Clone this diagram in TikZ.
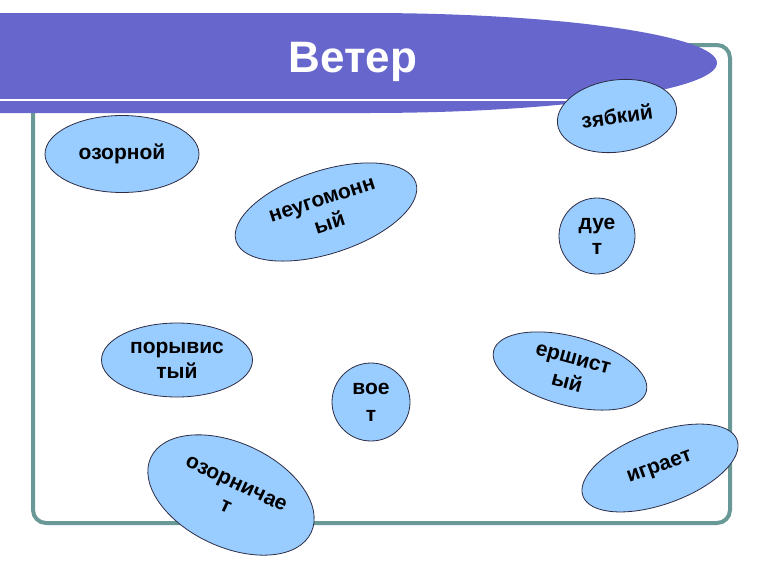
\documentclass[tikz,border=0pt]{standalone}
\usepackage{fontspec}
\setmainfont{Liberation Sans}
\usepackage{tikz}
\usetikzlibrary{shapes.geometric}

\definecolor{framegreen}{RGB}{104,153,150}
\definecolor{bannerblue}{RGB}{102,102,204}
\definecolor{wordblue}{RGB}{153,204,255}
\definecolor{wordline}{RGB}{45,45,70}

\begin{document}
\begin{tikzpicture}[x=1pt, y=-1pt,
            word node/.style={ellipse,draw=wordline,line width=0.8pt,fill=wordblue,
              inner sep=0pt,align=center,font=\bfseries\fontsize{21}{25}\selectfont},
            round node/.style={word node,circle}]
        \useasboundingbox (0,0) rectangle (768,576);

        % frame and title banner
        \draw[framegreen, line width=4pt, rounded corners=13pt] (33,45) rectangle (730,523);
        \fill[bannerblue] (0,13) -- (367,13) arc[start angle=-90, end angle=90, x radius=350, y radius=50] -- (0,113) -- cycle;
        \begin{scope}
            \clip (0,13) -- (367,13) arc[start angle=-90, end angle=90, x radius=350, y radius=50] -- (0,113) -- cycle;
            \draw[white, line width=2pt] (0,100) -- (720,100);
        \end{scope}
        \node[text=white, font=\bfseries\fontsize{44}{48}\selectfont] (title) at (353,62) {Ветер};

        \node[word node, minimum width=154pt, minimum height=77pt] (ozornoy) at (122,154) {озорной};
        \node[word node, minimum width=189pt, minimum height=83pt, rotate=18] (neugomonny) at (326,212) {неугомонн\\ый};
        \node[word node, minimum width=120pt, minimum height=72pt, rotate=8] (zyabky) at (617,116) {зябкий};
        \node[round node, minimum size=76pt] (duet) at (597,236) {дуе\\т};
        \node[word node, minimum width=151pt, minimum height=74pt] (poryvisty) at (177,360) {порывис\\тый};
        \node[round node, minimum size=78pt, font=\bfseries\fontsize{21}{27}\selectfont] (voet) at (371,402) {вое\\т};
        \node[word node, minimum width=158pt, minimum height=69pt, rotate=-15] (ershisty) at (570,371) {ершист\\ый};
        \node[word node, minimum width=177pt, minimum height=104pt, rotate=-25] (ozornichaet) at (231,495) {озорничае\\т};
        \node[word node, minimum width=164pt, minimum height=72pt, rotate=20] (igraet) at (660,468) {играет};
\end{tikzpicture}
\end{document}
